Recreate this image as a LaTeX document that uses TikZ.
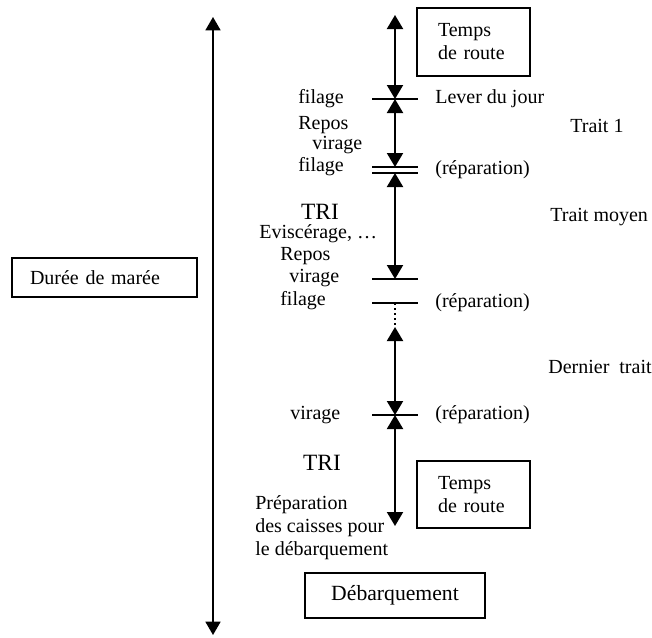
\documentclass[tikz,border=0pt]{standalone}
\usepackage{fontspec}
\setmainfont{Liberation Serif}
\usetikzlibrary{arrows.meta}
\newcommand{\MareeTick}[1]{
    \draw[tick] (#1) ++(-23,0) -- ++(46,0);
}

\begin{document}
\begin{tikzpicture}[x=0.6pt, y=-0.6pt,
    txt/.style={inner sep=0pt, font=\fontsize{12}{13.8}\selectfont},
    lbl/.style={txt, anchor=west},
    big/.style={inner sep=0pt, font=\fontsize{14}{16}\selectfont},
    box/.style={draw, line width=0.9pt, txt},
    seg/.style={line width=1.2pt, {Triangle[width=9.6pt,length=8.4pt]}-{Triangle[width=9.6pt,length=8.4pt]}},
    tick/.style={line width=1.2pt},
]
    \useasboundingbox (0,0) rectangle (652,637);

    % axis of the tide
    \coordinate (top) at (213, 17);
    \coordinate (bot) at (213, 635);
    % marks along the trip
    \coordinate (M0) at (395, 15);
    \coordinate (M1) at (395, 99);
    \coordinate (M2) at (395, 167);
    \coordinate (M3) at (395, 173);
    \coordinate (M4) at (395, 279);
    \coordinate (M5) at (395, 303);
    \coordinate (M6) at (395, 327);
    \coordinate (M7) at (395, 415);
    \coordinate (M8) at (395, 526);

    \node[box, minimum width=111pt, minimum height=23.4pt, inner xsep=10.8pt,
          text width=89.4pt, align=left] (duree) at (104.5, 277.5) {Durée de marée};
    \draw[line width=1pt, {Triangle[width=9pt,length=8pt]}-{Triangle[width=9pt,length=8pt]}] (top) -- (bot);

    \node[box, minimum width=67.8pt, minimum height=40.8pt, inner xsep=12.6pt,
          text width=42.6pt, align=left] (route1) at (473.5, 42) {Temps\\de route};
    \node[box, minimum width=67.8pt, minimum height=40.2pt, inner xsep=12.6pt,
          text width=42.6pt, align=left] (route2) at (473.5, 494.5) {Temps\\de route};
    \node[box, minimum width=108pt, minimum height=27pt,
          font=\fontsize{13}{15}\selectfont] (debarq) at (395, 595.5) {Débarquement};

    \draw[seg] (M0) -- (M1);
    \draw[seg] (M1) -- (M2);
    \draw[seg] (M3) -- (M4);
    \draw[line width=1pt, dotted] (M5) -- (M6);
    \draw[seg] (M6) -- (M7);
    \draw[seg] (M7) -- (M8);
    \foreach \m in {M1,M2,M3,M4,M5,M7}{
        \MareeTick{\m}
    }

    % right side
    \node[lbl] (lever) at (435, 99) {Lever du jour};
    \node[lbl] (trait1) at (570, 126) {Trait 1};
    \node[lbl] (rep1) at (435, 170) {(réparation)};
    \node[lbl] (moyen) at (550, 217) {Trait moyen};
    \node[lbl] (rep2) at (435, 303) {(réparation)};
    \node[lbl] (dernier) at (548, 367) {Dernier\ \ trait};
    \node[lbl] (rep3) at (435, 415) {(réparation)};

    % left side
    \node[lbl] (fil1) at (298, 99) {filage};
    \node[lbl] (rep1l) at (298, 125) {Repos};
    \node[lbl] (vir1) at (312, 145) {virage};
    \node[lbl] (fil2) at (298, 167) {filage};
    \node[big] (tri1) at (320, 212) {TRI};
    \node[lbl] (evisc) at (259, 234) {Eviscérage, …};
    \node[lbl] (rep2l) at (280, 256) {Repos};
    \node[lbl] (vir2) at (289, 278) {virage};
    \node[lbl] (fil3) at (280, 301) {filage};
    \node[lbl] (vir3) at (290, 415) {virage};
    \node[big] (tri2) at (322, 463) {TRI};
    \node[lbl, align=left] (prep) at (255, 528) {Préparation\\des caisses pour\\le débarquement};
\end{tikzpicture}
\end{document}
